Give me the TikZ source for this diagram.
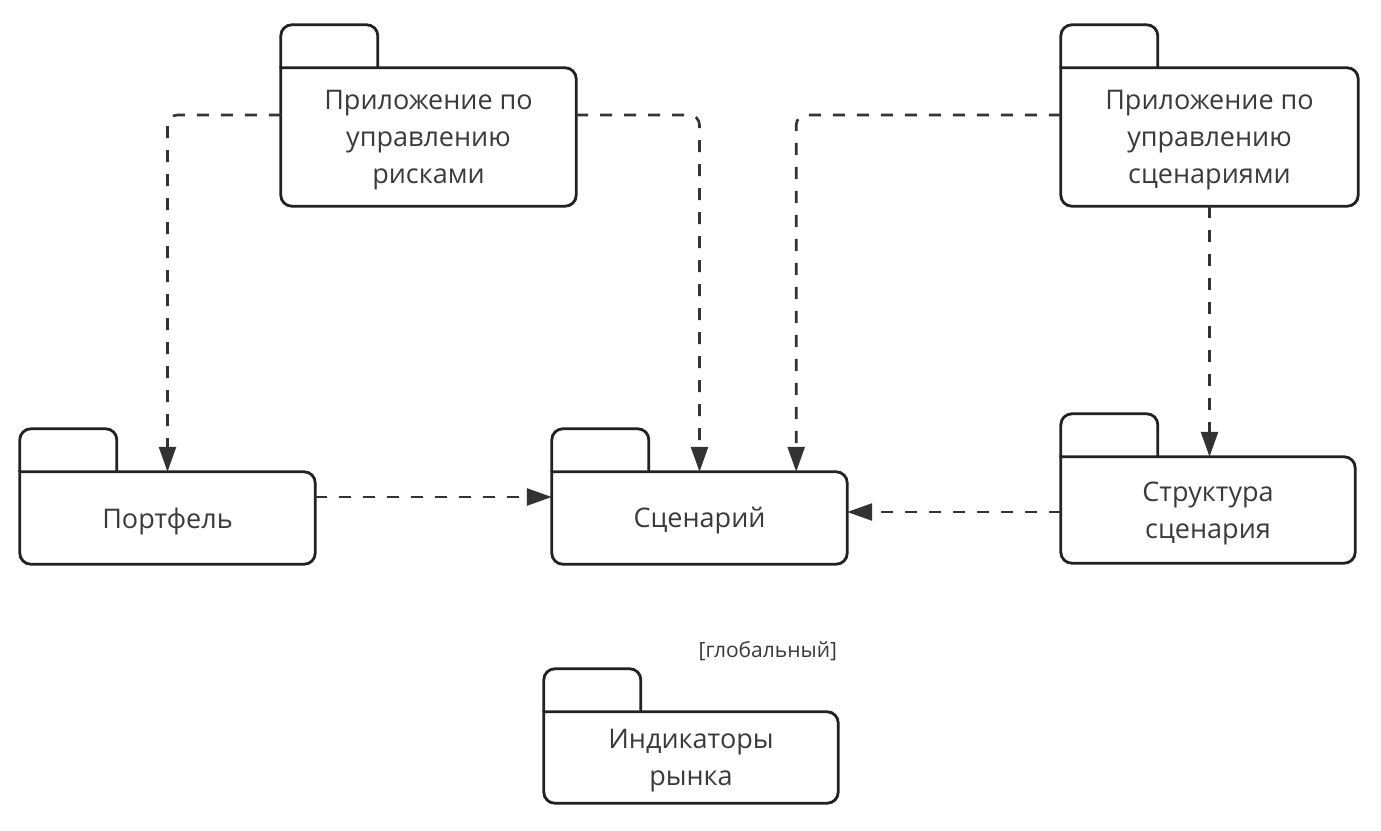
\documentclass[tikz,border=0pt]{standalone}
\usepackage{fontspec}
\setmainfont{Open Sans}
\usetikzlibrary{arrows.meta,calc}
\definecolor{boxline}{HTML}{222222}
\definecolor{txt}{HTML}{3A3A3A}
\definecolor{depline}{HTML}{333333}
\tikzset{
  pkgbody/.style={draw=none, inner sep=0pt},
  pkgtext/.style={inner sep=0pt, align=center, text=txt,
    font=\fontsize{27}{37}\selectfont},
  pkgline/.style={draw=boxline, line width=2.8pt, rounded corners=11pt, line cap=rect},
  tabline/.style={draw=boxline, line width=2.8pt, rounded corners=11pt},
  dep/.style={draw=depline, line width=2.6pt, dash pattern=on 12pt off 12pt,
    -{Triangle[length=25pt,width=17pt]}},
}
\newcommand\pkgdraw[2]{%
  \draw[pkgline] (#1.north west) -- (#1.north east) -- (#1.south east) -- (#1.south west) -- (#1.north west);
  \draw[tabline] (#1.north west) -- ++(0,-43) -- ++(97,0) -- ++(0,43);
  \node[pkgtext] (#1T) at ($(#1.center)+(0,3)$) {#2};
}
\begin{document}
\begin{tikzpicture}[x=1pt,y=-1pt]
\useasboundingbox (0,0) rectangle (1381,830);
\node[pkgbody, minimum width=295pt, minimum height=138pt] (risk) at (428.5,137) {};
\node[pkgbody, minimum width=297pt, minimum height=138pt] (sapp) at (1209.5,137) {};
\node[pkgbody, minimum width=295pt, minimum height=92pt] (port) at (167.5,518) {};
\node[pkgbody, minimum width=295pt, minimum height=92pt] (scen) at (699.5,518) {};
\node[pkgbody, minimum width=294pt, minimum height=106pt] (struct) at (1208,510) {};
\node[pkgbody, minimum width=294pt, minimum height=91pt] (ind) at (691,757.5) {};
\pkgdraw{risk}{Приложение по\\управлению\\рисками}
\pkgdraw{sapp}{Приложение по\\управлению\\сценариями}
\pkgdraw{port}{Портфель}
\pkgdraw{scen}{Сценарий}
\pkgdraw{struct}{Структура\\сценария}
\pkgdraw{ind}{Индикаторы\\рынка}
\node[anchor=east, inner sep=0pt, text=txt, font=\fontsize{21}{25}\selectfont] (glob) at ($(ind.north east)+(-1,-61)$) {[глобальный]};
\coordinate (scenB) at ($(scen.north east)+(-51,0)$);
\draw[dep, rounded corners=10pt] ($(risk.west)+(0,-22)$) -| (port.north);
\draw[dep, rounded corners=10pt] ($(risk.east)+(0,-22)$) -| (scen.north);
\draw[dep, rounded corners=10pt] ($(sapp.west)+(0,-22)$) -| (scenB);
\draw[dep] (sapp.south) -- (sapp.south |- struct.north);
\draw[dep] ($(port.east)+(0,-21)$) -- ($(scen.west)+(0,-21)$);
\draw[dep] ($(struct.west)+(0,2)$) -- ($(struct.west -| scen.east)+(0,2)$);
\end{tikzpicture}
\end{document}
